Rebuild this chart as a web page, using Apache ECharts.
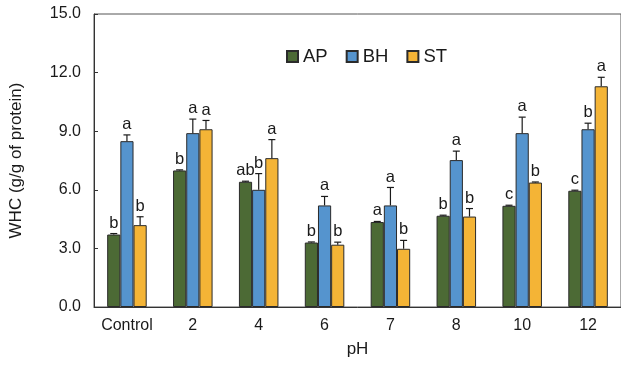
<!DOCTYPE html>
<html>
<head>
<meta charset="utf-8">
<script src="https://cdn.jsdelivr.net/npm/echarts@6/dist/echarts.min.js"></script>
<style>html,body{margin:0;padding:0;background:#fff}#c{width:621px;height:365px}</style>
</head>
<body>
<div id="c"></div>
<script>
var categories = ['Control', '2', '4', '6', '7', '8', '10', '12'];
var seriesNames = ['AP', 'BH', 'ST'];
var apValues = [3.71, 6.99, 6.41, 3.30, 4.35, 4.67, 5.18, 5.95];
var bhValues = [8.49, 8.90, 6.00, 5.20, 5.20, 7.52, 8.90, 9.10];
var stValues = [4.19, 9.10, 7.62, 3.19, 2.98, 4.63, 6.37, 11.30];
var apErrors = [0.05, 0.03, 0.03, 0.03, 0.03, 0.03, 0.03, 0.03];
var bhErrors = [0.32, 0.72, 0.83, 0.46, 0.92, 0.46, 0.82, 0.31];
var stErrors = [0.43, 0.45, 0.95, 0.13, 0.43, 0.41, 0.03, 0.46];
var apLetters = ['b', 'b', 'ab', 'b', 'a', 'b', 'c', 'c'];
var bhLetters = ['a', 'a', 'b', 'a', 'a', 'a', 'a', 'b'];
var stLetters = ['b', 'a', 'a', 'b', 'b', 'b', 'b', 'a'];
var yTicks = [0, 3, 6, 9, 12, 15];

var colors = ['#4C6A35', '#5594CE', '#F4B436'];
var values = [apValues, bhValues, stValues];
var errors = [apErrors, bhErrors, stErrors];
var letters = [apLetters, bhLetters, stLetters];
var FONT = '"Liberation Sans", Arial, sans-serif';

var series = [];
seriesNames.forEach(function (name, s) {
  series.push({
    name: name,
    type: 'bar',
    data: values[s],
    barWidth: '20%',
    barGap: '0%',
    itemStyle: { color: colors[s], borderColor: '#2b2b2b', borderWidth: 1 },
    emphasis: { disabled: true },
    z: 2
  });
});
seriesNames.forEach(function (name, s) {
  series.push({
    type: 'custom',
    name: name + '_err',
    data: values[s].map(function (v, i) { return [i, v, errors[s][i]]; }),
    z: 5,
    silent: true,
    renderItem: function (params, api) {
      var idx = api.value(0);
      var band = api.size([1, 0])[0];
      var offset = (s - 1) * band * 0.2;
      var base = api.coord([idx, api.value(1)]);
      var top = api.coord([idx, api.value(1) + api.value(2)]);
      var x = base[0] + offset;
      var cap = 3.5;
      return {
        type: 'group',
        children: [
          { type: 'line', shape: { x1: x, y1: base[1], x2: x, y2: top[1] }, style: { stroke: '#1a1a1a', lineWidth: 1.2 } },
          { type: 'line', shape: { x1: x - cap, y1: top[1], x2: x + cap, y2: top[1] }, style: { stroke: '#1a1a1a', lineWidth: 1.2 } },
          { type: 'text', style: { x: x, y: top[1] - 2, text: letters[s][params.dataIndex], fill: '#1a1a1a', font: '16.5px ' + FONT, textAlign: 'center', textVerticalAlign: 'bottom' } }
        ]
      };
    }
  });
});

var chart = echarts.init(document.getElementById('c'), null, { renderer: 'canvas' });
chart.setOption({
  animation: false,
  textStyle: { fontFamily: FONT },
  grid: { left: 91, top: 14, width: 533, height: 293, show: true, borderColor: '#555', borderWidth: 1, backgroundColor: 'transparent' },
  legend: {
    data: seriesNames,
    left: 281, top: 42,
    itemWidth: 11, itemHeight: 11, itemGap: 18,
    icon: 'rect',
    textStyle: { fontSize: 18.5, color: '#1a1a1a', fontFamily: FONT }
  },
  xAxis: {
    type: 'category',
    data: categories,
    name: 'pH', nameLocation: 'middle', nameGap: 34,
    nameTextStyle: { fontSize: 17, color: '#1a1a1a', fontFamily: FONT },
    axisLine: { lineStyle: { color: '#333', width: 1 } },
    axisTick: { inside: true, length: 4, lineStyle: { color: '#333' } },
    axisLabel: { interval: 0, fontSize: 16, color: '#1a1a1a', margin: 11, fontFamily: FONT }
  },
  yAxis: {
    type: 'value',
    min: yTicks[0], max: yTicks[yTicks.length - 1], interval: yTicks[1] - yTicks[0],
    name: 'WHC (g/g of protein)', nameLocation: 'middle', nameGap: 69,
    nameTextStyle: { fontSize: 17, color: '#1a1a1a', fontFamily: FONT },
    axisLine: { show: true, lineStyle: { color: '#333', width: 1 } },
    axisTick: { show: true, inside: true, length: 4, lineStyle: { color: '#333' } },
    splitLine: { show: false },
    axisLabel: { fontSize: 16, color: '#1a1a1a', margin: 13, fontFamily: FONT, formatter: function (v) { return v.toFixed(1); } }
  },
  series: series
});
</script>
</body>
</html>
